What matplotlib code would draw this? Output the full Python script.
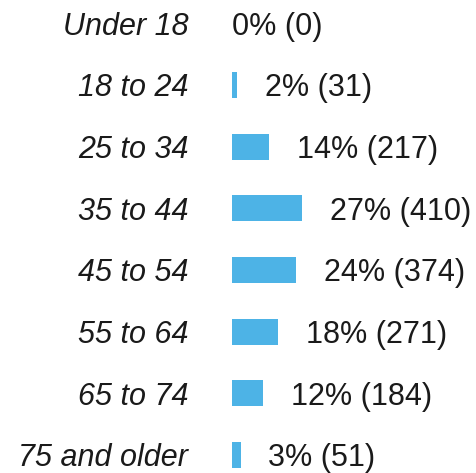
import matplotlib.pyplot as plt

# data
categories = ["Under 18", "18 to 24", "25 to 34", "35 to 44",
              "45 to 54", "55 to 64", "65 to 74", "75 and older"]
percents = [0, 2, 14, 27, 24, 18, 12, 3]
counts = [0, 31, 217, 410, 374, 271, 184, 51]

bar_color = "#4DB3E6"
font = "Liberation Sans"
fsize = 22

W, H = 477, 473
fig = plt.figure(figsize=(W / 100, H / 100), dpi=100)
ax = fig.add_axes([232 / W, 0, 245 / W, 1])

ypos = list(range(len(categories)))
ax.barh(ypos, counts, height=0.417, color=bar_color)

for y, c, p in zip(ypos, counts, percents):
    off = 20 if c > 0 else 0
    ax.annotate(f"{p}% ({c})", xy=(c, y), xytext=(off, 0),
                textcoords="offset points", va="center_baseline", ha="left",
                fontsize=fsize, fontfamily=font, color="#1a1a1a")

ax.set_xlim(0, 245 / 0.171)
ax.set_ylim(7.292, -0.378)
ax.set_yticks(ypos)
ax.set_yticklabels(categories, fontsize=fsize, fontstyle="italic",
                   fontfamily=font, color="#1a1a1a")
ax.tick_params(axis="y", length=0, pad=31.5)
ax.set_xticks([])
for s in ax.spines.values():
    s.set_visible(False)

fig.savefig("out.png", dpi=100)
